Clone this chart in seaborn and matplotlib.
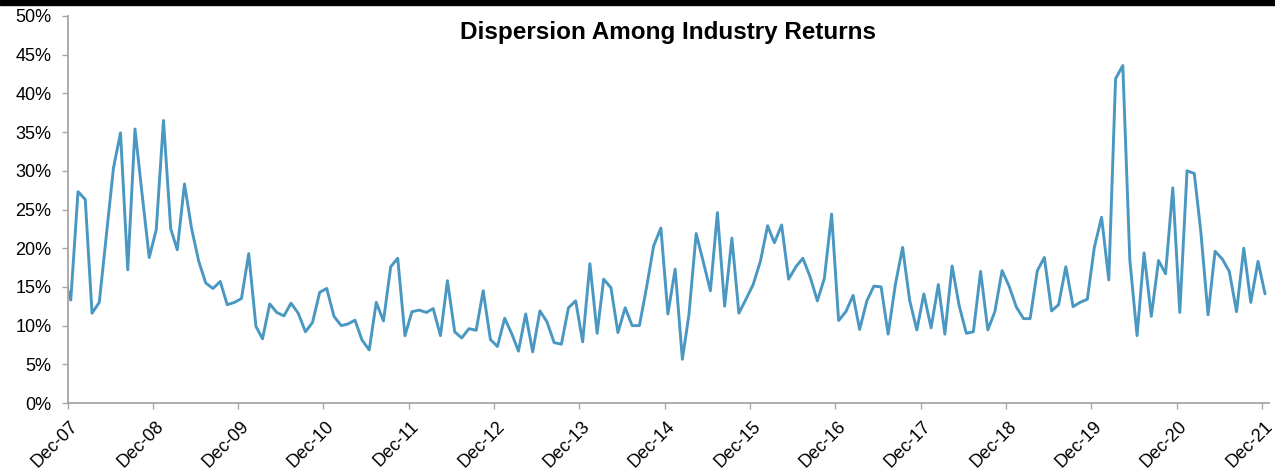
import matplotlib
matplotlib.use("Agg")
import matplotlib.pyplot as plt
from matplotlib.ticker import FuncFormatter
from matplotlib.transforms import ScaledTranslation
import seaborn as sns
import pandas as pd

# ---- data (monthly dispersion among industry returns, %) ----
start_month = "2007-11"
dispersion = [
    16.4, 13.3, 27.3, 26.3, 11.6, 13.0, 21.5, 30.4, 34.9, 17.2, 35.4, 27.1,
    18.8, 22.4, 36.5, 22.5, 19.8, 28.3, 22.6, 18.3, 15.5, 14.8, 15.7, 12.7,
    13.0, 13.5, 19.3, 9.9, 8.3, 12.8, 11.7, 11.25, 12.9, 11.6, 9.2, 10.4,
    14.3, 14.8, 11.2, 10.0, 10.2, 10.7, 8.15, 6.85, 13.0, 10.6, 17.6, 18.7,
    8.7, 11.8, 12.0, 11.7, 12.2, 8.7, 15.8, 9.2, 8.4, 9.6, 9.4, 14.5,
    8.2, 7.3, 10.95, 8.9, 6.7, 11.5, 6.6, 11.9, 10.5, 7.8, 7.6, 12.3,
    13.2, 7.9, 18.0, 9.0, 16.0, 14.9, 9.1, 12.3, 10.0, 10.0, 15.0, 20.3,
    22.6, 11.5, 17.3, 5.65, 11.4, 21.9, 18.3, 14.5, 24.6, 12.5, 21.3, 11.6,
    13.45, 15.3, 18.3, 22.9, 20.7, 23.0, 16.0, 17.6, 18.7, 16.3, 13.2, 16.1,
    24.4, 10.65, 11.8, 13.9, 9.5, 13.2, 15.1, 15.0, 8.9, 15.3, 20.1, 13.3,
    9.44, 14.1, 9.7, 15.3, 8.9, 17.7, 12.6, 9.0, 9.2, 17.0, 9.44, 11.8,
    17.1, 15.1, 12.4, 10.9, 10.9, 17.1, 18.8, 11.9, 12.7, 17.6, 12.45, 13.0,
    13.4, 20.1, 24.0, 15.9, 41.9, 43.6, 18.5, 8.7, 19.4, 11.2, 18.4, 16.7,
    27.8, 11.7, 30.0, 29.65, 22.15, 11.4, 19.6, 18.6, 17.0, 11.8, 20.0, 13.0,
    18.3, 14.1,
]
tick_years = list(range(2007, 2022))
tick_labels = [f"Dec-{y % 100:02d}" for y in tick_years]
y_ticks = [0, 5, 10, 15, 20, 25, 30, 35, 40, 45, 50]
title = "Dispersion Among Industry Returns"

# points plotted mid-month
months = pd.period_range(start_month, periods=len(dispersion), freq="M")
dates = months.to_timestamp(how="start") + pd.Timedelta(days=14)
df = pd.DataFrame({"date": dates, "value": dispersion})

sns.set_theme(style="white")
plt.rcParams["font.family"] = ["Liberation Sans", "DejaVu Sans"]

fig = plt.figure(figsize=(12.75, 4.76), dpi=100)
ax = fig.add_axes([67.5 / 1275, 73 / 476, (1269 - 67.5) / 1275, (403 - 16) / 476])

sns.lineplot(data=df, x="date", y="value", ax=ax, color="#4a98c2",
             linewidth=2.1)

ax.set_xlim(pd.Timestamp("2007-12-01"), pd.Timestamp("2022-01-01"))
ax.set_ylim(0, 50)
ax.set_xticks([pd.Timestamp(f"{y}-12-01") for y in tick_years])
ax.set_xticklabels(tick_labels, rotation=45, ha="right", va="top",
                   rotation_mode="anchor", fontsize=13, color="black")
ax.set_yticks(y_ticks)
ax.yaxis.set_major_formatter(FuncFormatter(lambda v, p: f"{v:.0f}%"))
ax.tick_params(axis="y", labelsize=13, labelcolor="black", length=4.5, width=1,
               direction="out", pad=7, left=True)
ax.tick_params(axis="x", length=4.5, width=1, direction="out", pad=6, bottom=True)
ax.tick_params(axis="both", color="#a6a6a6")

shift = ScaledTranslation(2 / 100, 0, fig.dpi_scale_trans)
for lab in ax.get_xticklabels():
    lab.set_transform(lab.get_transform() + shift)

for s in ["top", "right"]:
    ax.spines[s].set_visible(False)
for s in ["left", "bottom"]:
    ax.spines[s].set_color("#a6a6a6")
    ax.spines[s].set_linewidth(1.3)

ax.set_xlabel("")
ax.set_ylabel("")
ax.grid(False)

ax.text(0.5, 0.958, title, transform=ax.transAxes, ha="center", va="center",
        fontsize=17.5, fontweight="bold", color="black")

# black band at top of figure
fig.patches.append(plt.Rectangle((0, 1 - 4.5 / 476), 1, 4.5 / 476,
                                 transform=fig.transFigure, color="black",
                                 zorder=10))

fig.savefig("out.png", dpi=100)
